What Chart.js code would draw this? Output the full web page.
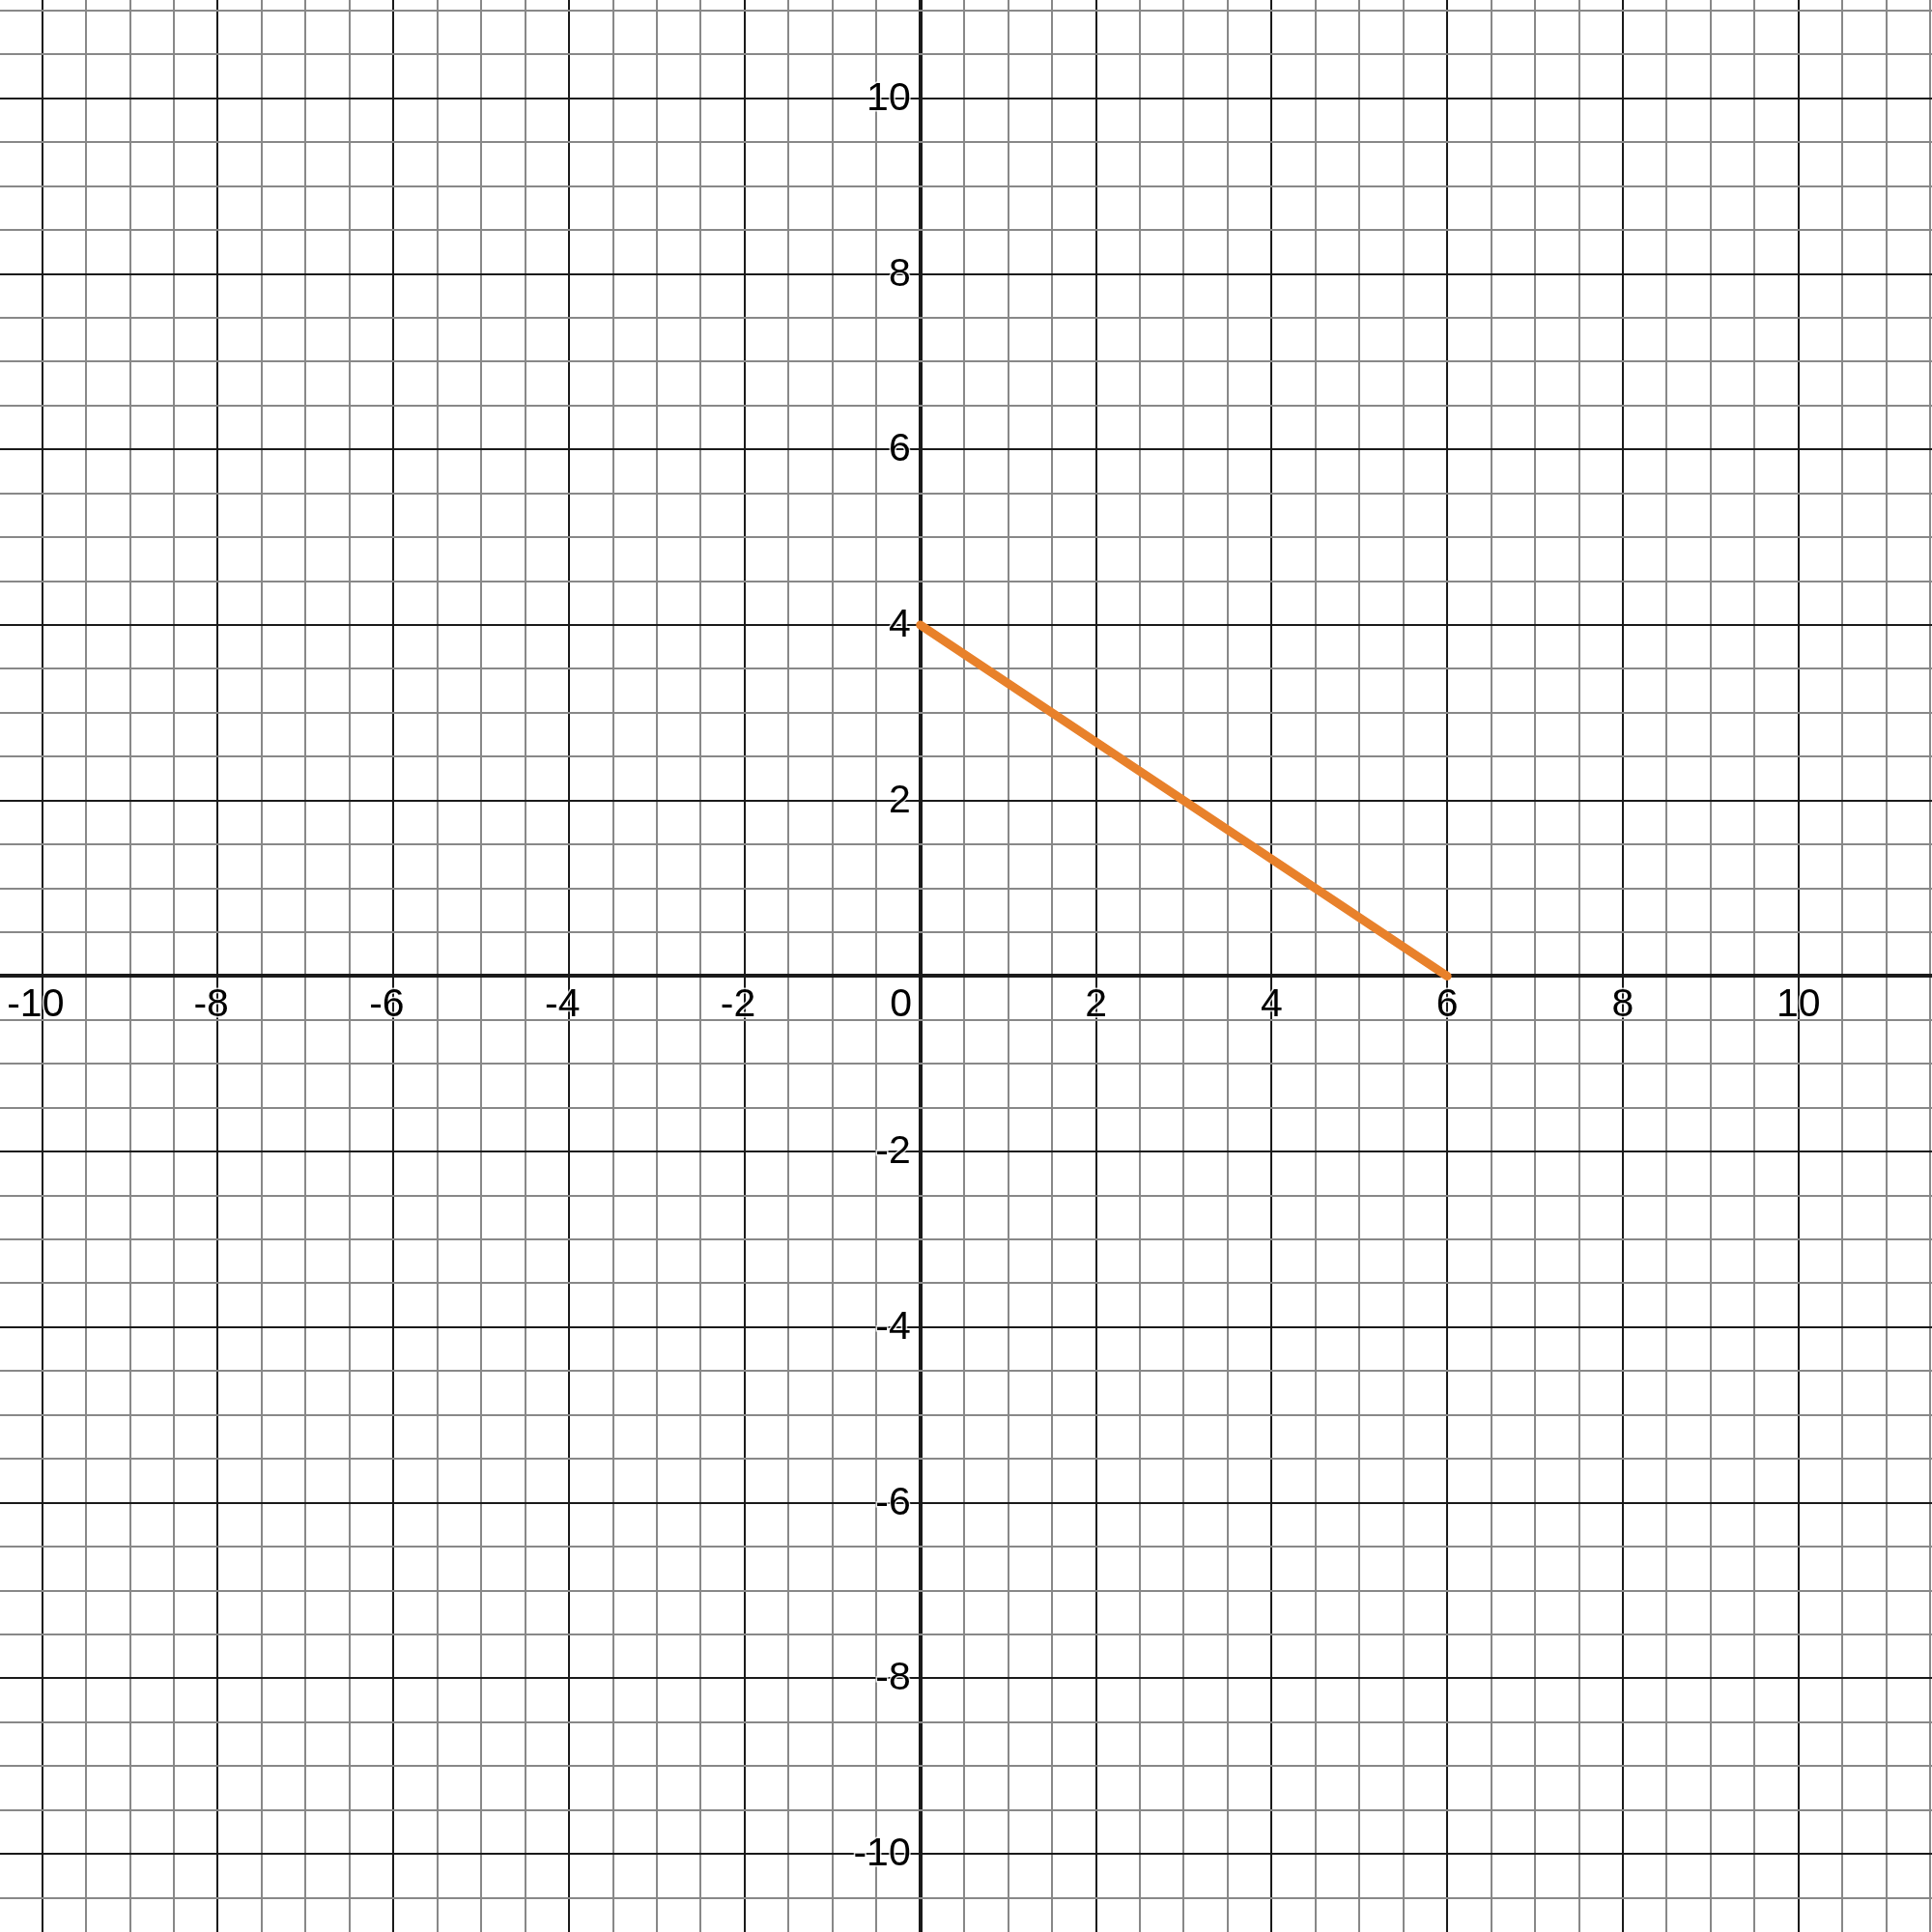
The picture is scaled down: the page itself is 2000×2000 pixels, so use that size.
<!DOCTYPE html>
<html>
<head>
<meta charset="utf-8">
<script src="https://cdn.jsdelivr.net/npm/chart.js@4.4.1/dist/chart.umd.min.js"></script>
<style>
  html, body { margin: 0; padding: 0; background: #fff; }
  #wrap { width: 2000px; height: 2000px; }
</style>
</head>
<body>
<div id="wrap"><canvas id="graph"></canvas></div>
<script>
// line segment drawn on the grid
const pointsX = [0, 6];
const pointsY = [4, 0];

// visible window
const xMin = -10.48, xMax = 11.52;
const yMin = -10.89, yMax = 11.12;

// labelled ticks
const xTickLabels = [-10, -8, -6, -4, -2, 2, 4, 6, 8, 10];
const yTickLabels = [-10, -8, -6, -4, -2, 2, 4, 6, 8, 10];

const FONT = '41px "Liberation Sans", Arial, sans-serif';

// grid every 0.5, darker every 2
function halfSteps(scale) {
  const out = [];
  for (let i = Math.ceil(scale.min * 2); i <= Math.floor(scale.max * 2); i++) {
    out.push({ value: i / 2 });
  }
  scale.ticks = out;
}
function gridColor(ctx) {
  const v = ctx.tick.value;
  if (Math.abs(v / 2 - Math.round(v / 2)) < 1e-9) return '#1a1a1a';
  return '#888888';
}
function gridWidth(ctx) {
  return Math.abs(ctx.tick.value) < 1e-9 ? 4 : 2;
}

const labelPlugin = {
  id: 'axisLabels',
  afterDraw(chart) {
    const c = chart.ctx;
    const xs = chart.scales.x, ys = chart.scales.y;
    const x0 = xs.getPixelForValue(0), y0 = ys.getPixelForValue(0);
    c.save();
    c.font = FONT;
    c.fillStyle = '#000';
    c.strokeStyle = 'rgba(255,255,255,0.8)';
    c.lineWidth = 3;
    c.textBaseline = 'alphabetic';
    // x labels: digits centred on the line, minus hangs left
    xTickLabels.forEach(v => {
      const s = String(v);
      const w = c.measureText(String(Math.abs(v))).width;
      const px = xs.getPixelForValue(v);
      c.textAlign = 'right';
      c.strokeText(s, px + w / 2, y0 + 42);
      c.fillText(s, px + w / 2, y0 + 42);
    });
    // y labels: right aligned left of the axis
    yTickLabels.forEach(v => {
      const s = String(v);
      const py = ys.getPixelForValue(v);
      c.textAlign = 'right';
      c.strokeText(s, x0 - 10, py + 12);
      c.fillText(s, x0 - 10, py + 12);
    });
    c.textAlign = 'center';
    c.fillText('0', x0 - 20, y0 + 42);
    c.restore();
  }
};

const ctx = document.getElementById('graph').getContext('2d');

new Chart(ctx, {
  type: 'scatter',
  data: {
    datasets: [{
      data: pointsX.map((x, i) => ({ x: x, y: pointsY[i] })),
      showLine: true,
      borderColor: '#E8812B',
      borderWidth: 9,
      borderCapStyle: 'round',
      pointRadius: 0,
      pointHoverRadius: 0
    }]
  },
  options: {
    responsive: true,
    maintainAspectRatio: false,
    animation: false,
    layout: { padding: 0 },
    plugins: {
      legend: { display: false },
      tooltip: { enabled: false }
    },
    scales: {
      x: {
        type: 'linear',
        min: xMin,
        max: xMax,
        afterBuildTicks: halfSteps,
        border: { display: false },
        grid: { color: gridColor, lineWidth: gridWidth, drawTicks: false },
        ticks: { display: false }
      },
      y: {
        type: 'linear',
        min: yMin,
        max: yMax,
        afterBuildTicks: halfSteps,
        border: { display: false },
        grid: { color: gridColor, lineWidth: gridWidth, drawTicks: false },
        ticks: { display: false }
      }
    }
  },
  plugins: [labelPlugin]
});
</script>
</body>
</html>
